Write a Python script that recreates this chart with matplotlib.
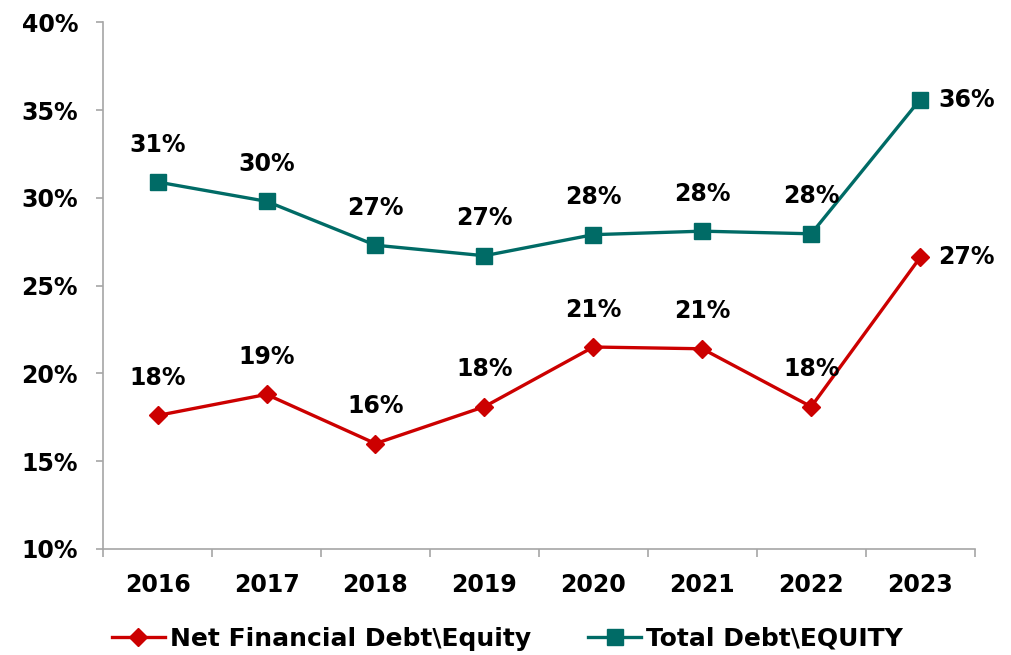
import numpy as np
import matplotlib.pyplot as plt
from matplotlib.ticker import FixedLocator

# Yearly leverage ratios (%)
years = ['2016', '2017', '2018', '2019', '2020', '2021', '2022', '2023']
net_debt_equity = [17.6, 18.8, 16.0, 18.1, 21.5, 21.4, 18.1, 26.6]
total_debt_equity = [30.9, 29.8, 27.3, 26.7, 27.9, 28.1, 27.95, 35.6]
net_labels = ['18%', '19%', '16%', '18%', '21%', '21%', '18%', '27%']
total_labels = ['31%', '30%', '27%', '27%', '28%', '28%', '28%', '36%']

red = '#CC0000'
teal = '#006B66'
grey = '#A6A6A6'
fs = 17

plt.rcParams['font.family'] = 'DejaVu Sans'
plt.rcParams['font.weight'] = 'bold'

fig = plt.figure(figsize=(10.11, 6.55), dpi=100)
ax = fig.add_axes([0.102, 0.162, 0.862, 0.804])

x = np.arange(len(years))
ax.plot(x, net_debt_equity, color=red, lw=2.4, marker='D', ms=9.5,
        label='Net Financial Debt\\Equity')
ax.plot(x, total_debt_equity, color=teal, lw=2.4, marker='s', ms=11.5,
        label='Total Debt\\EQUITY')

# value labels: above the points, to the right for the last year
for i in range(len(years)):
    for vals, labs in ((net_debt_equity, net_labels), (total_debt_equity, total_labels)):
        if i == len(years) - 1:
            ax.annotate(labs[i], (x[i], vals[i]), xytext=(13, 0),
                        textcoords='offset points', ha='left', va='center',
                        fontsize=fs, fontweight='bold')
        else:
            ax.annotate(labs[i], (x[i], vals[i]), xytext=(0, 27),
                        textcoords='offset points', ha='center', va='center',
                        fontsize=fs, fontweight='bold')

ax.set_xlim(-0.5, len(years) - 0.5)
ax.set_ylim(10, 40)
ax.set_yticks(np.arange(10, 41, 5))
ax.set_yticklabels([f'{v}%' for v in range(10, 41, 5)])
ax.set_xticks(x)
ax.set_xticklabels(years)
ax.xaxis.set_minor_locator(FixedLocator(np.arange(-0.5, len(years), 1)))

for s in ('top', 'right'):
    ax.spines[s].set_visible(False)
for s in ('left', 'bottom'):
    ax.spines[s].set_color(grey)
    ax.spines[s].set_linewidth(1.2)

ax.tick_params(axis='y', length=5, width=1.2, color=grey, pad=13, labelsize=fs)
ax.tick_params(axis='x', which='major', length=0, pad=17, labelsize=fs)
ax.tick_params(axis='x', which='minor', length=6, width=1.2, color=grey)

ax.legend(loc='upper center', bbox_to_anchor=(0.464, -0.105), ncol=2,
          frameon=False, fontsize=18, handlelength=2.1, handletextpad=0.2,
          columnspacing=2.3)

fig.savefig('out.png', dpi=100)
